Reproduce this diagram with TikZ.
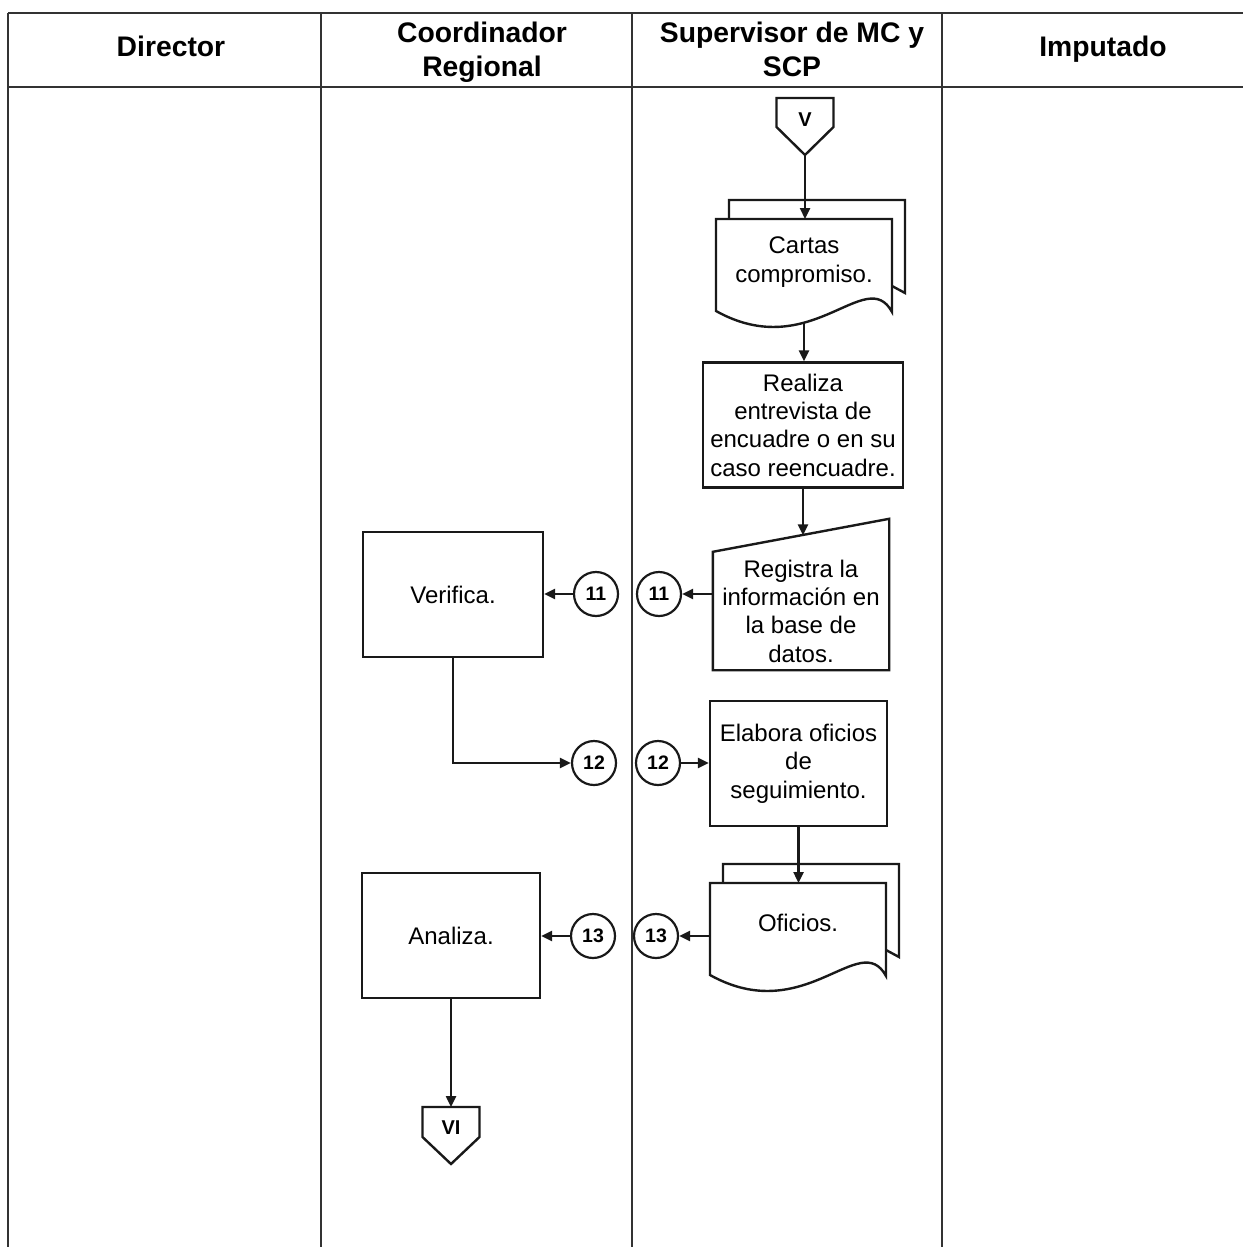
\documentclass[tikz,border=0pt]{standalone}
\usepackage{fontspec}
\setmainfont{Liberation Sans}
\usetikzlibrary{arrows.meta,calc}

\begin{document}
\begin{tikzpicture}[x=1pt,y=-1pt,
  line/.style={line width=2.4pt, draw=black!90},
  lane/.style={line width=2pt, draw=black!80},
  flow/.style={line width=2.4pt, draw=black!90, -{Triangle[length=11pt,width=10pt]}},
  head/.style={font=\bfseries\fontsize{28.3}{34}\selectfont, align=center, inner sep=0pt},
  txt/.style={font=\fontsize{24}{28.3}\selectfont, align=center, inner sep=0pt},
  proc/.style={txt, draw=black!90, line width=2.4pt, rectangle, minimum height=125pt},
  conn/.style={draw=black!90, circle, line width=2.2pt, minimum size=44pt, inner sep=0pt,
               font=\bfseries\fontsize{19.5}{22}\selectfont},
  offtxt/.style={font=\bfseries\fontsize{20}{22}\selectfont, inner sep=0pt},
  % stacked documents; origin at the top-left corner of the front sheet
  multidoc/.pic={
    \draw[line] (13,0) -- (13,-19) -- (189,-19) -- (189,74) -- (176,67);
    \draw[line, fill=white] (0,0) -- (176,0) -- (176,93)
      .. controls (150,45) and (95,145) .. (0,92) -- cycle;
    \coordinate (-top) at (88,0);
    \coordinate (-bot) at (88,104);
    \coordinate (-left) at (0,53);
  },
  % off-page connector outline around a label node
  offpage/.style={line}
]
\useasboundingbox (0,0) rectangle (1243,1247);

% swimlane frame
\draw[lane] (8,13) -- (1243,13);
\draw[lane] (8,87) -- (1243,87);
\draw[lane] (8,13) -- (8,1247);
\draw[lane] (321,13) -- (321,1247);
\draw[lane] (632,13) -- (632,1247);
\draw[lane] (942,13) -- (942,1247);

% lane headings
\node[head] (hdir)   at (171,46) {Director};
\node[head] (hcoord) at (482,52) {Coordinador\\Regional};
\node[head] (hsup)   at (792,49) {Supervisor de MC y\\SCP};
\node[head] (himp)   at (1103,49) {Imputado};

% incoming off-page connector
\node[offtxt] (v) at (805,120) {V};
\draw[offpage] ($(v)+(-28.5,-22)$) -- ++(57,0) -- ++(0,29) -- ++(-28.5,28) -- ++(-28.5,-28) -- cycle;
\coordinate (vtip) at ($(v)+(0,35)$);

% Cartas compromiso (documents)
\pic (cartas) at (716,219) {multidoc};
\node[txt] (cartastxt) at (804,262) {Cartas\\compromiso.};

% Realiza entrevista
\node[proc, minimum width=200pt] (realiza) at (803,425)
  {Realiza\\entrevista de\\encuadre o en su\\caso reencuadre.};

% Registra (manual input)
\node[txt, minimum width=176pt, minimum height=118pt] (registra) at (801,611)
  {Registra la\\información en\\la base de\\datos.};
\draw[line] (registra.south west) -- (registra.north west)
  -- ($(registra.north east)+(0,-33)$) -- (registra.south east) -- cycle;
\coordinate (regtop) at ($(registra.north)+(0,-16.5)$);

% Verifica
\node[proc, minimum width=180pt] (verifica) at (453,594.5) {Verifica.};

% Elabora oficios
\node[proc, minimum width=177pt] (elabora) at (798.5,763.5) {Elabora oficios\\de\\seguimiento.};

% Oficios (documents)
\pic (oficios) at (710,883) {multidoc};
\node[txt] (oficiostxt) at (798,923) {Oficios.};

% Analiza
\node[proc, minimum width=178pt] (analiza) at (451,935.5) {Analiza.};

% outgoing off-page connector
\node[offtxt] (vi) at (451,1128) {VI};
\draw[offpage] ($(vi)+(-28.5,-21)$) -- ++(57,0) -- ++(0,30) -- ++(-28.5,27) -- ++(-28.5,-27) -- cycle;
\coordinate (vitop) at ($(vi)+(0,-21)$);

% on-page connectors
\node[conn] (c11a) at (596,594) {11};
\node[conn] (c11b) at (659,594) {11};
\node[conn] (c12a) at (594,763) {12};
\node[conn] (c12b) at (658,763) {12};
\node[conn] (c13a) at (593,936) {13};
\node[conn] (c13b) at (656,936) {13};

% flow
\draw[flow] (vtip) -- (vtip |- cartas-top);
\draw[flow] (cartas-bot) -- (cartas-bot |- realiza.north);
\draw[flow] (realiza.south) -- (realiza.south |- regtop);
\draw[flow] (registra.west |- c11b) -- (c11b.east);
\draw[flow] (c11a.west) -- (verifica.east |- c11a);
\draw[flow] (verifica.south) |- (c12a.west);
\draw[flow] (c12b.east) -- (elabora.west |- c12b);
\draw[flow] (elabora.south) -- (elabora.south |- oficios-top);
\draw[flow] (oficios-left) -- (c13b.east);
\draw[flow] (c13a.west) -- (analiza.east |- c13a);
\draw[flow] (analiza.south) -- (analiza.south |- vitop);

\end{tikzpicture}
\end{document}
